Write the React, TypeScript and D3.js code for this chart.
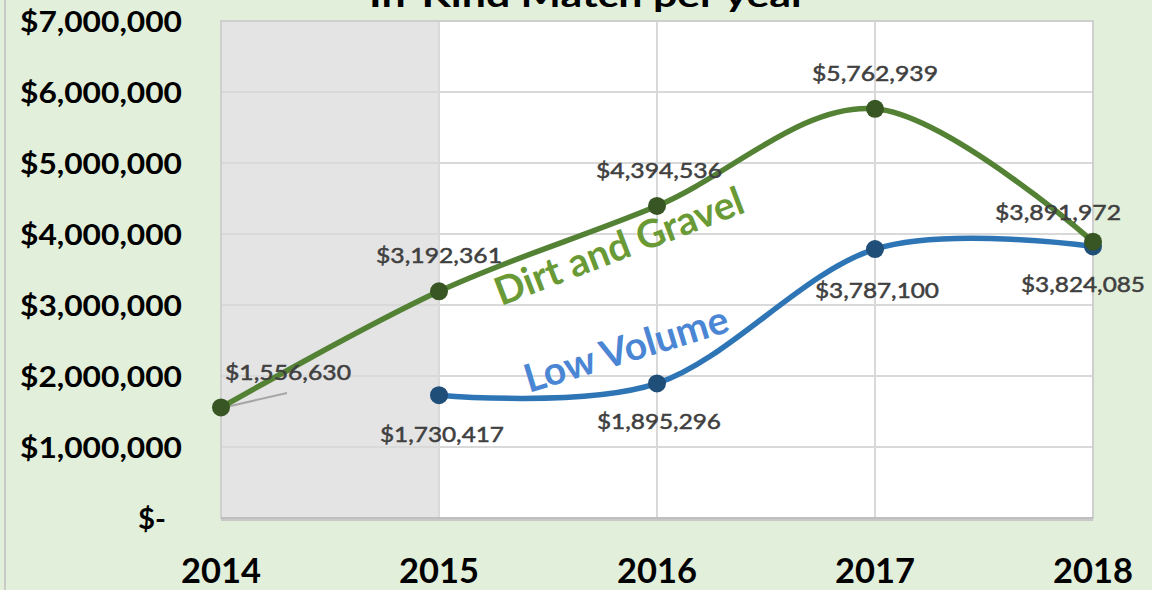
import React from 'react';
import * as d3 from 'd3';

const years = [2014, 2015, 2016, 2017, 2018];
const dirtGravel = [1556630, 3192361, 4394536, 5762939, 3891972];
const lowVolume = [null, 1730417, 1895296, 3787100, 3824085];
const yTicks = [0, 1000000, 2000000, 3000000, 4000000, 5000000, 6000000, 7000000];

const width = 1152;
const height = 590;
const left = 221;
const right = 1093;
const top = 21;
const bottom = 518;

const font = 'Lato, "Open Sans", sans-serif';

const x = d3.scaleLinear().domain([2014, 2018]).range([left, right]);
const y = d3.scaleLinear().domain([0, 7000000]).range([bottom, top]);

const fmt = d3.format('$,');
const tickFmt = (v: number) => (v === 0 ? '$-' : d3.format('$,')(v));

const lineGen = d3
  .line<[number, number]>()
  .x(d => x(d[0]))
  .y(d => y(d[1]))
  .curve(d3.curveCardinal.tension(0));

// label offsets [dx, dy, anchor]
const dgLabels: [number, number, string][] = [
  [4, -27, 'start'],
  [0, -28, 'middle'],
  [2, -28, 'middle'],
  [0, -28, 'middle'],
  [-35, -22, 'middle'],
];
const lvLabels: [number, number, string][] = [
  [0, 0, 'middle'],
  [3, 47, 'middle'],
  [2, 46, 'middle'],
  [2, 49, 'middle'],
  [-10, 46, 'middle'],
];

const App = () => {
  const dgPts = years.map((yr, i) => [yr, dirtGravel[i]] as [number, number]);
  const lvPts = years
    .map((yr, i) => [yr, lowVolume[i]])
    .filter(d => d[1] != null) as [number, number][];

  return (
    <svg
      width={width}
      height={height}
      style={{ position: 'absolute', left: 0, top: 0, fontFamily: font }}
    >
      <rect x={0} y={0} width={width} height={height} fill="#E2EFDA" />
      <line x1={5} x2={5} y1={0} y2={height} stroke="#BFBFBF" strokeWidth={1.5} />

      {/* title, cut at the top like the source */}
      <text
        x={588}
        y={7}
        textAnchor="middle"
        fontSize={32}
        fontWeight="bold"
        fill="#000"
        textLength={438}
        lengthAdjust="spacingAndGlyphs"
      >
        In-Kind Match per year
      </text>

      {/* plot area */}
      <rect x={left} y={top} width={right - left} height={bottom - top} fill="#fff" />
      <rect x={left} y={top} width={x(2015) - left} height={bottom - top} fill="#E4E4E4" />

      {yTicks.map(t => (
        <line key={t} x1={left} x2={right} y1={y(t)} y2={y(t)} stroke="#D9D9D9" strokeWidth={2} />
      ))}
      {years.map(yr => (
        <line key={yr} x1={x(yr)} x2={x(yr)} y1={top} y2={bottom} stroke="#D9D9D9" strokeWidth={2} />
      ))}
      <rect
        x={left}
        y={top}
        width={right - left}
        height={bottom - top}
        fill="none"
        stroke="#CFCFCF"
        strokeWidth={2}
      />
      <line x1={left} x2={right} y1={bottom + 2} y2={bottom + 2} stroke="#C8C8C8" strokeWidth={2} />
      <line x1={left} x2={right} y1={bottom} y2={bottom} stroke="#BFBFBF" strokeWidth={2} />

      {/* y axis labels */}
      {yTicks.map(t => (
        <text
          key={t}
          x={t === 0 ? 166 : 182}
          y={y(t) + 11}
          textAnchor="end"
          fontSize={29}
          fontWeight="bold"
          fill="#000"
          textLength={t === 0 ? 28 : 162}
          lengthAdjust="spacingAndGlyphs"
        >
          {tickFmt(t)}
        </text>
      ))}

      {/* x axis labels */}
      {years.map(yr => (
        <text
          key={yr}
          x={x(yr)}
          y={583}
          textAnchor="middle"
          fontSize={34}
          fontWeight="bold"
          fill="#000"
          textLength={80}
          lengthAdjust="spacingAndGlyphs"
        >
          {yr}
        </text>
      ))}

      {/* leader line */}
      <line x1={x(2014) + 3} y1={y(dirtGravel[0])} x2={287} y2={393} stroke="#A6A6A6" strokeWidth={2} />

      {/* lines */}
      <path d={lineGen(lvPts) || ''} fill="none" stroke="#2E75B6" strokeWidth={5.5} strokeLinecap="round" />
      <path d={lineGen(dgPts) || ''} fill="none" stroke="#548235" strokeWidth={5.5} strokeLinecap="round" />

      {lvPts.map(d => (
        <circle key={'lv' + d[0]} cx={x(d[0])} cy={y(d[1])} r={9} fill="#1F4E79" />
      ))}
      {dgPts.map(d => (
        <circle key={'dg' + d[0]} cx={x(d[0])} cy={y(d[1])} r={9} fill="#375623" />
      ))}

      {/* data labels */}
      {dgPts.map((d, i) => (
        <text
          key={'dgl' + i}
          x={x(d[0]) + dgLabels[i][0]}
          y={y(d[1]) + dgLabels[i][1]}
          textAnchor={dgLabels[i][2]}
          fontSize={21}
          fill="#404040"
          stroke="#404040"
          strokeWidth={0.5}
          textLength={126}
          lengthAdjust="spacingAndGlyphs"
        >
          {fmt(d[1])}
        </text>
      ))}
      {lvPts.map(d => {
        const i = years.indexOf(d[0]);
        return (
          <text
            key={'lvl' + i}
            x={x(d[0]) + lvLabels[i][0]}
            y={y(d[1]) + lvLabels[i][1]}
            textAnchor={lvLabels[i][2]}
            fontSize={21}
            fill="#404040"
            stroke="#404040"
            strokeWidth={0.5}
            textLength={124}
            lengthAdjust="spacingAndGlyphs"
          >
            {fmt(d[1])}
          </text>
        );
      })}

      {/* series names */}
      <text
        transform="translate(624,259) rotate(-21)"
        textAnchor="middle"
        fontSize={39}
        fontWeight="bold"
        fill="#6A9A35"
      >
        Dirt and Gravel
      </text>
      <text
        transform="translate(630,362) rotate(-17)"
        textAnchor="middle"
        fontSize={39}
        fontWeight="bold"
        fill="#4A86D4"
      >
        Low Volume
      </text>
    </svg>
  );
};

export default App;
